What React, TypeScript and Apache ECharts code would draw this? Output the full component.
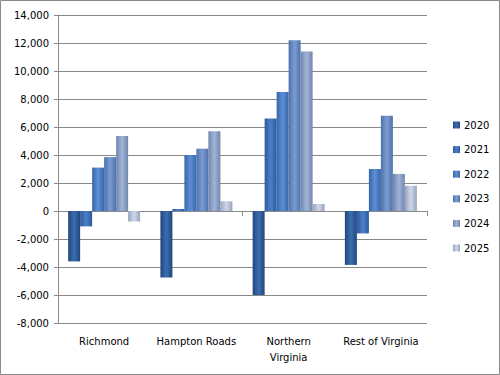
import React, { useEffect, useRef } from "react";
import * as echarts from "echarts";

const categories = ["Richmond", "Hampton Roads", "Northern\nVirginia", "Rest of Virginia"];
const years = ["2020", "2021", "2022", "2023", "2024", "2025"];
const v2020 = [-3600, -4750, -6000, -3850];
const v2021 = [-1100, 150, 6600, -1600];
const v2022 = [3100, 4000, 8500, 3000];
const v2023 = [3850, 4450, 12200, 6800];
const v2024 = [5350, 5700, 11400, 2650];
const v2025 = [-750, 700, 500, 1800];
const seriesValues = [v2020, v2021, v2022, v2023, v2024, v2025];
const yTicks = { min: -8000, max: 14000, interval: 2000 };

const palette: [string, string][] = [
  ["#20477e", "#3a6aa9"],
  ["#2a5a9c", "#4a7cc6"],
  ["#3566ab", "#5b8bd2"],
  ["#4e71aa", "#7898ce"],
  ["#7085ae", "#9db0d3"],
  ["#97a2bc", "#cbd3e4"],
];

function grad(edge: string, mid: string) {
  return new echarts.graphic.LinearGradient(0, 0, 1, 0, [
    { offset: 0, color: edge },
    { offset: 0.45, color: mid },
    { offset: 0.55, color: mid },
    { offset: 1, color: edge },
  ]);
}

export default function App() {
  const ref = useRef<HTMLDivElement>(null);
  useEffect(() => {
    if (!ref.current) return;
    const chart = echarts.init(ref.current, undefined, { renderer: "svg" });
    const font = "DejaVu Sans";
    chart.setOption({
      animation: false,
      backgroundColor: "#ffffff",
      textStyle: { fontFamily: font },
      graphic: [
        {
          type: "rect",
          shape: { x: 0.5, y: 0.5, width: 499, height: 374 },
          style: { fill: "none", stroke: "#8a8a8a", lineWidth: 1 },
          silent: true,
        },
      ],
      grid: { left: 58, right: 73, top: 15, bottom: 52, containLabel: false },
      legend: {
        orient: "vertical",
        left: 448,
        top: 115,
        itemWidth: 7,
        itemHeight: 7,
        itemGap: 14.6,
        icon: "rect",
        textStyle: { fontFamily: font, fontSize: 10, color: "#000", padding: [0, 0, 0, -1] },
        data: years,
      },
      xAxis: [
        {
          type: "category",
          data: categories,
          position: "bottom",
          axisLine: { show: false, onZero: false },
          axisTick: { show: false },
          axisLabel: { fontFamily: font, fontSize: 10, color: "#000", margin: 10, lineHeight: 16, interval: 0 },
        },
        {
          type: "category",
          data: categories,
          axisLine: { show: true, onZero: true, lineStyle: { color: "#8a8a8a", width: 1 } },
          axisTick: { show: true, length: 5, inside: false, lineStyle: { color: "#8a8a8a" } },
          axisLabel: { show: false },
          position: "bottom",
        },
      ],
      yAxis: {
        type: "value",
        min: yTicks.min,
        max: yTicks.max,
        interval: yTicks.interval,
        axisLine: { show: true, lineStyle: { color: "#8a8a8a" } },
        axisTick: { show: true, length: 4, lineStyle: { color: "#8a8a8a" } },
        splitLine: { lineStyle: { color: "#888888", width: 1 } },
        axisLabel: {
          fontFamily: font,
          fontSize: 10,
          color: "#000",
          margin: 9,
          formatter: (v: number) => v.toLocaleString("en-US"),
        },
      },
      series: years.map((y, i) => ({
        name: y,
        type: "bar",
        xAxisIndex: 0,
        data: seriesValues[i],
        barGap: "0%",
        barCategoryGap: "22%",
        itemStyle: { color: grad(palette[i][0], palette[i][1]) },
      })),
    });
    return () => chart.dispose();
  }, []);
  return (
    <div
      ref={ref}
      style={{ position: "fixed", left: 0, top: 0, width: 500, height: 375 }}
    />
  );
}
